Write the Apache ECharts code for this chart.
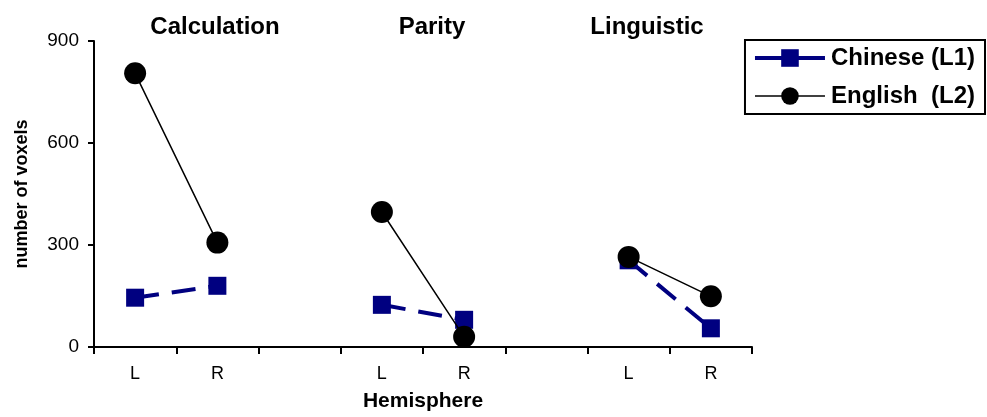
<!DOCTYPE html>
<html><head><meta charset="utf-8">
<script src="https://cdn.jsdelivr.net/npm/echarts@6/dist/echarts.min.js"></script>
<style>html,body{margin:0;padding:0;background:#fff}#c{width:987px;height:417px}</style>
</head><body><div id="c"></div>
<script>
var categories = ['L', 'R', '', 'L', 'R', '', 'L', 'R'];
var groupTitles = ['Calculation', 'Parity', 'Linguistic'];
var chinese = [145, 180, '-', 124, 80, '-', 255, 55];
var english = [805, 307, '-', 397, 30, '-', 265, 149];
var yTicks = [0, 300, 600, 900];

var chart = echarts.init(document.getElementById('c'));
var font = 'Liberation Sans, Arial, sans-serif';
var titleX = [210, 427, 642];
chart.setOption({
  animation: false,
  textStyle: { fontFamily: font },
  grid: { left: 94, right: 235, top: 41, bottom: 69 },
  title: groupTitles.map(function (t, i) {
    return { text: t, left: titleX[i], top: 10, textAlign: 'center',
      textStyle: { fontSize: 24, fontWeight: 'bold', color: '#000', fontFamily: font } };
  }),
  legend: {
    right: 2, top: 40, orient: 'vertical', align: 'left',
    borderColor: '#000', borderWidth: 2, padding: [5, 10, 5, 8],
    itemWidth: 70, itemHeight: 22, itemGap: 12,
    textStyle: { fontSize: 24, fontWeight: 'bold', color: '#000', fontFamily: font, lineHeight: 26, padding: [0, 0, 0, 1] },
    data: [
      { name: 'Chinese (L1)', lineStyle: { width: 4, type: 'solid', color: '#000080' } },
      { name: 'English  (L2)', lineStyle: { width: 1.5, type: 'solid', color: '#000' } }
    ]
  },
  xAxis: {
    type: 'category', data: categories, boundaryGap: true,
    name: 'Hemisphere', nameLocation: 'middle', nameGap: 44,
    nameTextStyle: { fontSize: 21, fontWeight: 'bold', color: '#000', fontFamily: font },
    axisLine: { lineStyle: { color: '#000', width: 2 } },
    axisTick: { show: true, alignWithLabel: false, length: 7, inside: false, lineStyle: { color: '#000', width: 2 } },
    axisLabel: { fontSize: 18, color: '#000', margin: 18, interval: 0 },
    splitLine: { show: false }
  },
  yAxis: {
    type: 'value', min: yTicks[0], max: yTicks[yTicks.length - 1], interval: 300,
    name: 'number of voxels', nameLocation: 'middle', nameGap: 63,
    nameTextStyle: { fontSize: 18, fontWeight: 'bold', color: '#000', fontFamily: font },
    axisLine: { show: true, lineStyle: { color: '#000', width: 2 } },
    axisTick: { show: true, length: 6, lineStyle: { color: '#000', width: 2 } },
    axisLabel: { fontSize: 19, color: '#000', margin: 15 },
    splitLine: { show: false }
  },
  series: [
    { name: 'Chinese (L1)', type: 'line', data: chinese, connectNulls: false,
      symbol: 'rect', symbolSize: 18,
      itemStyle: { color: '#000080' },
      lineStyle: { color: '#000080', width: 4, type: [24, 13] }, z: 2 },
    { name: 'English  (L2)', type: 'line', data: english, connectNulls: false,
      symbol: 'circle', symbolSize: 22,
      itemStyle: { color: '#000' },
      lineStyle: { color: '#000', width: 1.5 }, z: 3 }
  ]
});
</script></body></html>
